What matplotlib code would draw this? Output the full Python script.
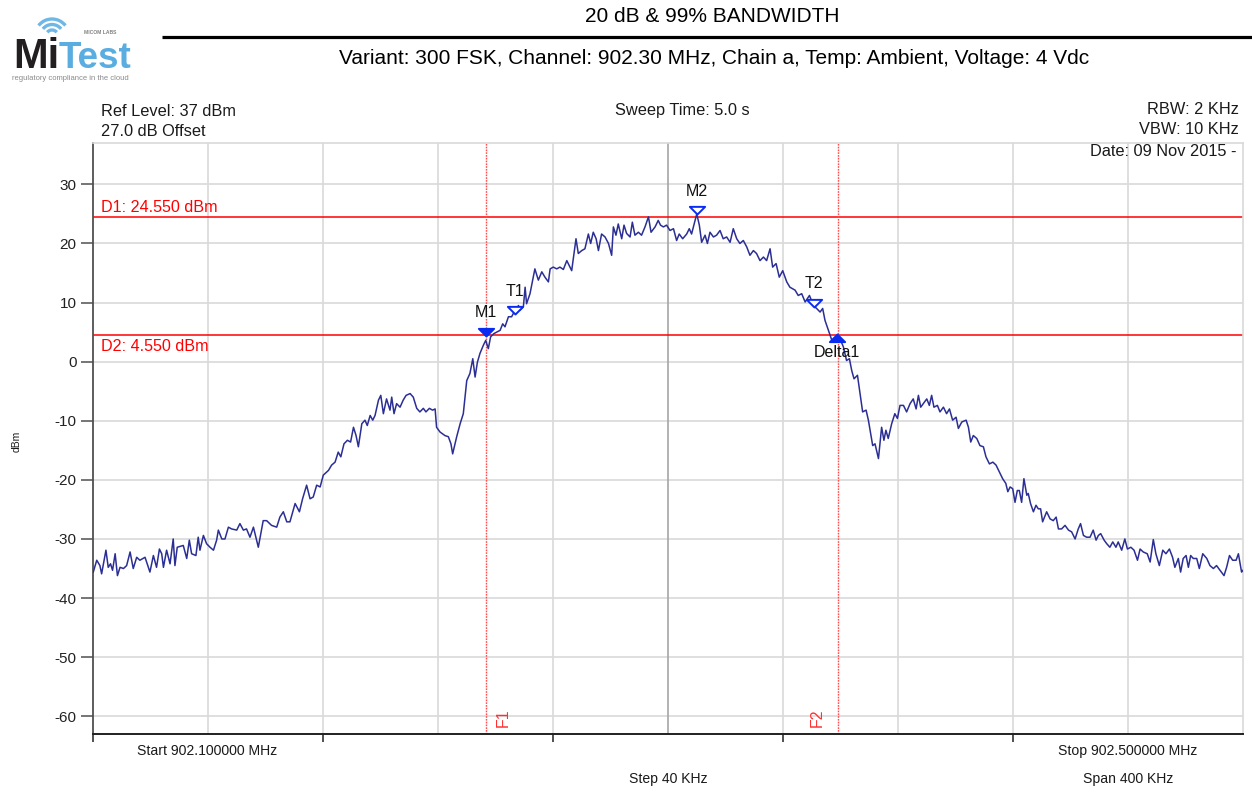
import matplotlib
matplotlib.use('Agg')
import matplotlib.pyplot as plt
from matplotlib.path import Path
from matplotlib.patches import Arc

plt.rcParams['font.family'] = ['Liberation Sans', 'DejaVu Sans']

# ---------------- data ----------------
start_mhz = 902.100000
stop_mhz = 902.500000
span_khz = 400
step_khz = 40
ref_level = 37
y_bottom = -63
y_ticks = [30, 20, 10, 0, -10, -20, -30, -40, -50, -60]

# trace: frequency offset from start (kHz) and level (dBm)
freq_khz = [
    0.1, 1.3, 2.4, 3.0, 4.5, 5.3, 6.1, 6.8, 7.7, 8.5, 9.4, 10.6, 11.7, 12.9, 14.0, 15.2, 16.3, 18.1, 19.8,
    21.0, 22.1, 23.1, 23.9, 24.5, 25.6, 26.8, 27.9, 28.5, 29.3, 31.4, 32.6, 33.5, 34.3, 35.8, 36.6, 37.2,
    38.4, 39.5, 40.7, 41.9, 43.0, 43.6, 44.8, 45.9, 47.1, 48.2, 50.0, 51.1, 52.3, 53.4, 54.6, 55.8, 57.5,
    59.2, 60.4, 62.1, 63.9, 65.0, 66.2, 67.4, 68.5, 70.3, 71.8, 72.9, 74.3, 75.5, 76.6, 77.8, 79.0, 80.1,
    81.9, 83.0, 84.2, 85.3, 86.2, 87.3, 88.5, 89.6, 90.6, 91.5, 92.3, 93.5, 94.6, 95.4, 96.4, 97.3, 98.1,
    99.3, 100.1, 101.0, 102.1, 103.3, 103.9, 104.7, 105.6, 106.8, 107.9, 108.9, 110.3, 111.4, 112.6, 113.7,
    114.9, 115.8, 117.0, 118.1, 119.0, 119.5, 120.7, 122.4, 123.6, 124.5, 125.1, 126.5, 127.7, 128.8, 130.0,
    131.1, 132.1, 132.9, 133.7, 134.6, 135.8, 136.6, 137.5, 138.3, 139.3, 140.4, 141.6, 142.5, 143.3, 144.5,
    145.6, 146.8, 148.0, 148.5,
    149.7, 150.3, 150.8, 152.0, 153.7, 154.9, 156.1, 157.2, 158.4, 159.0, 160.1, 161.3, 162.4, 163.6, 164.8,
    165.9, 166.5, 167.3, 168.0, 168.8, 170.0, 171.1, 172.3, 173.1, 174.0, 175.0, 175.8, 176.9, 178.1, 179.3,
    180.4, 181.0, 181.9, 182.7, 183.9, 184.7, 185.6, 186.8, 187.6, 188.5, 189.7, 190.8, 192.0, 193.2, 194.1,
    195.5, 196.6, 197.4, 198.4, 199.5, 200.7, 201.9, 203.0, 203.9, 205.1, 206.5, 207.4, 208.2, 209.0, 210.0,
    210.9, 211.7, 212.9, 213.7, 214.6, 215.8, 216.9, 218.1, 219.2, 220.4, 221.6, 222.7, 223.9, 225.0, 226.2,
    227.4, 228.5, 229.7, 230.8, 232.0, 233.2, 234.3, 235.5, 236.4, 237.6, 238.7, 239.9,
    241.3, 242.4, 244.2, 245.3, 246.5, 247.7, 249.2, 250.6, 251.7, 252.9, 253.8, 254.6, 255.8, 257.0, 258.7,
    259.8, 261.0, 262.1, 263.1, 263.9, 264.7, 265.9, 266.8, 267.7, 268.9, 269.7, 270.5, 271.2, 272.0, 273.2,
    274.3, 275.1, 275.8, 276.6, 277.8, 278.9, 279.8, 280.7, 281.9, 283.0, 284.2, 285.3, 286.3, 287.1, 287.9,
    288.8, 290.0, 290.9, 291.7, 292.5, 293.7, 294.6, 295.8, 296.9, 297.9, 299.0, 300.2, 301.0, 302.2, 303.7,
    304.5, 305.3, 306.2, 307.4, 308.5, 309.7, 310.6, 311.8, 313.0, 314.1, 315.3, 316.4, 317.5, 318.2,
    319.0, 319.9, 320.7, 321.5, 322.2, 323.0, 323.8, 324.8, 325.3, 326.1, 327.1, 328.0, 328.8, 329.6, 330.3,
    331.7, 332.9, 334.0, 335.0, 335.8, 336.9, 338.1, 339.3, 340.4, 341.6, 342.7, 343.5, 344.5, 345.6, 346.8,
    347.9, 348.9, 349.7, 350.5, 351.7, 352.6, 353.7, 354.7, 355.8, 356.6, 357.8, 358.9, 359.8, 361.0, 362.1,
    363.3, 364.2, 365.3, 366.7, 367.7, 368.8, 369.7, 370.9, 372.1, 373.2, 374.4, 375.5, 376.3, 377.5, 378.3,
    379.2, 380.2, 381.0, 381.8, 382.7, 383.9, 384.8, 386.0, 387.4, 388.5, 389.7, 390.8, 392.0, 393.4, 394.3,
    395.3, 396.4, 397.6, 398.4, 399.5, 400.0,
]
level_dbm = [
    -35.6, -33.6, -34.5, -35.9, -31.9, -34.8, -34.2, -35.3, -32.5, -36.2, -34.8, -35.0, -34.5, -32.2, -35.0, -33.1, -33.6, -33.1, -35.6,
    -32.8, -34.8, -31.7, -32.5, -34.8, -31.9, -34.2, -30.0, -34.5, -31.4, -31.1, -33.3, -30.2, -32.5, -32.8, -29.7, -31.9,
    -29.4, -30.8, -31.4, -31.9, -30.2, -28.5, -30.0, -30.0, -28.0, -28.3, -28.5, -27.4, -28.5, -28.3, -29.7, -28.0, -31.4,
    -26.9, -26.9, -27.7, -28.0, -26.3, -25.4, -27.1, -27.1, -24.0, -25.4, -23.2, -20.9, -23.2, -22.9, -20.9, -21.2, -19.2,
    -18.4, -17.5, -17.0, -15.3, -16.1, -13.9, -13.3, -13.6, -11.1, -12.5, -14.4, -10.5, -9.9, -10.8, -9.1, -9.9, -9.1,
    -6.5, -5.7, -8.8, -6.3, -8.2, -6.0, -8.8, -7.1, -7.7, -6.5, -5.7, -5.4, -6.0, -7.9, -8.5,
    -7.9, -8.5, -7.9, -8.2, -8.0, -11.1, -11.9, -12.5, -12.7, -13.9, -15.6, -12.7, -10.5, -8.8, -3.2,
    -2.0, 0.5, -2.6, -0.1, 1.4, 2.8, 3.6, 2.2, 4.2, 4.7, 5.0, 5.3, 6.4, 5.9, 7.6,
    7.6, 8.7, 9.5, 8.7,
    9.3, 12.6, 9.8, 11.5, 15.7, 13.8, 15.2, 14.3, 13.5, 15.7, 16.0, 15.7, 16.0, 15.6, 17.1,
    16.0, 15.4, 18.3, 20.8, 18.3, 18.8, 19.1, 21.6, 20.0, 21.9, 20.8, 18.8, 21.6, 21.1, 20.0,
    18.0, 22.8, 21.4, 23.3, 20.8, 23.1, 21.7, 21.1, 23.6, 21.4, 21.9, 21.4, 22.8, 24.5, 21.9,
    22.8, 23.9, 23.1, 22.8, 23.1, 22.2, 22.5, 20.5, 21.6, 20.8, 21.6, 22.5, 21.6, 23.1, 25.0,
    23.1, 20.2, 21.4, 20.0, 21.9, 21.1, 21.4, 22.2, 20.8, 21.1, 20.2, 22.5, 20.8, 20.0, 20.5,
    19.4, 18.0, 18.8, 18.3, 17.1, 17.7, 17.1, 19.1, 16.0, 16.6, 14.3, 15.4,
    13.5, 12.6, 12.1, 11.2, 11.5, 10.1, 11.2, 9.5, 9.0, 8.4, 9.0, 7.0, 5.3, 3.6, 4.2,
    3.9, 2.5, 0.2, 0.5, -1.5, -2.9, -2.3, -5.4, -8.5, -8.2, -9.9, -12.2, -14.2, -13.9, -16.4,
    -11.1, -13.3, -11.6, -13.0, -10.5, -8.8, -9.6, -7.4, -7.4, -8.5, -7.1, -6.3, -8.0, -5.7, -7.7,
    -7.1, -6.3, -7.4, -5.7, -7.7, -7.4, -8.5, -7.7, -8.8, -8.0, -9.9, -9.4, -11.3, -10.2, -9.9,
    -11.1, -13.6, -12.5, -13.0, -14.2, -14.4, -16.1, -17.3, -17.0, -17.5, -18.7, -19.8, -20.6, -22.0,
    -21.2, -21.5, -23.8, -21.8, -21.8, -23.8, -19.8, -22.6, -22.3, -24.0, -25.4, -24.3, -24.9, -24.9, -27.1,
    -25.4, -26.6, -26.9, -26.3, -28.3, -28.3, -27.7, -28.5, -28.8, -30.0, -28.3, -27.4, -29.4, -29.7, -29.7,
    -28.5, -30.2, -29.4, -29.1, -30.2, -30.8, -31.4, -30.5, -31.4, -30.5, -31.9, -30.0, -31.7, -31.4, -31.9,
    -33.6, -31.7, -32.2, -32.5, -33.9, -30.1, -32.5, -34.5, -31.9, -32.5, -31.7, -33.1, -34.8, -33.3, -35.6,
    -33.3, -32.8, -34.8, -32.8, -33.3, -33.3, -35.0, -32.5, -33.3, -34.5, -35.0, -34.5, -35.3, -36.2, -34.8,
    -32.8, -33.6, -33.6, -32.5, -35.6, -35.3,
]

# display lines and markers
d1_level = 24.55
d2_level = 4.55
f1_khz = 136.7
f2_khz = 259.1
marker_names = ['M1', 'T1', 'M2', 'T2', 'Delta1']
marker_freq = [136.7, 146.9, 210.0, 250.7, 258.7]
marker_level = [4.4, 8.0, 25.0, 9.3, 4.7]
marker_filled = [True, False, False, False, True]
marker_up = [False, False, False, False, True]

# ---------------- figure ----------------
W, H = 1252, 793
fig = plt.figure(figsize=(W / 100, H / 100), dpi=100)
fig.patch.set_facecolor('white')

ax = fig.add_axes([93 / W, 1 - 734 / H, 1150 / W, 591 / H])
ax.set_xlim(0, span_khz)
ax.set_ylim(y_bottom, ref_level)

grid_c = '#d9d9d9'
for y in y_ticks:
    ax.axhline(y, color=grid_c, lw=1.2, zorder=0)
for k in range(1, span_khz // step_khz):
    xv = k * step_khz
    c = '#a6a6a6' if xv == span_khz / 2 else grid_c
    ax.axvline(xv, color=c, lw=1.2, zorder=0)

for s in ['top', 'right']:
    ax.spines[s].set_color(grid_c)
    ax.spines[s].set_linewidth(1.2)
ax.spines['left'].set_color('#505050')
ax.spines['left'].set_linewidth(1.3)
ax.spines['bottom'].set_color('#202020')
ax.spines['bottom'].set_linewidth(1.4)

ax.set_yticks(y_ticks)
ax.set_yticklabels([str(v) for v in y_ticks])
ax.set_xticks(list(range(0, span_khz, 2 * step_khz)))
ax.set_xticklabels([])
ax.tick_params(axis='y', direction='out', length=8.6, width=1.1, color='#505050',
               labelsize=11, pad=3.2, labelcolor='#222222')
ax.tick_params(axis='x', direction='out', length=5.5, width=1.1, color='#202020')

# reference lines
ax.axhline(d1_level, color='#ff0000', lw=1.1, zorder=2)
ax.axhline(d2_level, color='#ff0000', lw=1.1, zorder=2)
for fx in (f1_khz, f2_khz):
    ax.axvline(fx, color='#ff4d4d', lw=1.0, ls=(0, (1.2, 0.8)), zorder=2)

# trace
ax.plot(freq_khz, level_dbm, color='#2b2f94', lw=1.1, zorder=3)

# markers
down_tri = Path([(-1, 1), (1, 1), (0, 0), (-1, 1)],
                [Path.MOVETO, Path.LINETO, Path.LINETO, Path.CLOSEPOLY])
up_tri = Path([(-1, -1), (1, -1), (0, 0), (-1, -1)],
              [Path.MOVETO, Path.LINETO, Path.LINETO, Path.CLOSEPOLY])
blue = '#0a2cf0'
for name, fx, lv, filled, up in zip(marker_names, marker_freq, marker_level, marker_filled, marker_up):
    ax.plot([fx], [lv], marker=up_tri if up else down_tri, ms=11,
            mfc=blue if filled else 'white', mec=blue, mew=1.4, ls='none', zorder=5)
    dy = -13.5 if up else 16.5
    ax.annotate(name, xy=(fx, lv), xytext=(0, dy), textcoords='offset points',
                ha='center', va='center', fontsize=11.5, color='#111111', zorder=6)

ax.annotate(f'D1: {d1_level:.3f} dBm', xy=(0, d1_level), xytext=(5.8, 6.5),
            textcoords='offset points', ha='left', va='center', fontsize=11.6, color='#ff0000')
ax.annotate(f'D2: {d2_level:.3f} dBm', xy=(0, d2_level), xytext=(5.8, -8.6),
            textcoords='offset points', ha='left', va='center', fontsize=11.6, color='#ff0000')
ax.annotate('F1', xy=(f1_khz, y_bottom), xytext=(12.2, 11.5), textcoords='offset points',
            rotation=90, ha='center', va='center', fontsize=11.5, color='#ff3030')
ax.annotate('F2', xy=(f2_khz, y_bottom), xytext=(-15.0, 11.5), textcoords='offset points',
            rotation=90, ha='center', va='center', fontsize=11.5, color='#ff3030')

# ---------------- overlay (pixel coordinates) ----------------
ov = fig.add_axes([0, 0, 1, 1], zorder=10)
ov.set_xlim(0, W)
ov.set_ylim(H, 0)
ov.axis('off')

# logo
ov.text(60, 68, 'Mi', ha='right', va='baseline', fontsize=30, fontweight='bold', color='#231f20')
ov.text(59, 68, 'Test', ha='left', va='baseline', fontsize=26.5, fontweight='bold', color='#5aade0')
for r in (6, 11.5, 17):
    ov.add_patch(Arc((52, 36), 2 * r, 2 * r, theta1=218, theta2=322, color='#6fb8e6', lw=2.4))
ov.text(84, 33, 'MICOM LABS', ha='left', va='center', fontsize=3.6, color='#808080', fontweight='bold')
ov.text(70, 79, 'regulatory compliance in the cloud', ha='center', va='center', fontsize=5.5, color='#8a8a8a')

ov.plot([162, W], [37, 37], color='black', lw=2.3, solid_capstyle='butt')

ov.text(712, 17, '20 dB & 99% BANDWIDTH', ha='center', va='center', fontsize=15.0, color='black')
ov.text(714, 58, 'Variant: 300 FSK, Channel: 902.30 MHz, Chain a, Temp: Ambient, Voltage: 4 Vdc',
        ha='center', va='center', fontsize=15.0, color='black')

hc = '#1a1a1a'
ov.text(101, 111, f'Ref Level: {ref_level} dBm', ha='left', va='center', fontsize=11.8, color=hc)
ov.text(101, 131, '27.0 dB Offset', ha='left', va='center', fontsize=11.8, color=hc)
ov.text(682, 111, 'Sweep Time: 5.0 s', ha='center', va='center', fontsize=11.8, color=hc)
ov.text(1239, 110, 'RBW: 2 KHz', ha='right', va='center', fontsize=11.8, color=hc)
ov.text(1239, 130, 'VBW: 10 KHz', ha='right', va='center', fontsize=11.8, color=hc)
ov.text(1236, 152, 'Date: 09 Nov 2015 -', ha='right', va='center', fontsize=11.8, color=hc)

ov.text(17, 441, 'dBm', rotation=90, ha='center', va='center', fontsize=7.5, color=hc)

bc = '#1a1a1a'
ov.text(207, 751, f'Start {start_mhz:.6f} MHz', ha='center', va='center', fontsize=10.1, color=bc)
ov.text(1128, 751, f'Stop {stop_mhz:.6f} MHz', ha='center', va='center', fontsize=10.1, color=bc)
ov.text(668, 779, f'Step {step_khz} KHz', ha='center', va='center', fontsize=10.1, color=bc)
ov.text(1128, 779, f'Span {span_khz} KHz', ha='center', va='center', fontsize=10.1, color=bc)

fig.savefig('out.png', dpi=100)
